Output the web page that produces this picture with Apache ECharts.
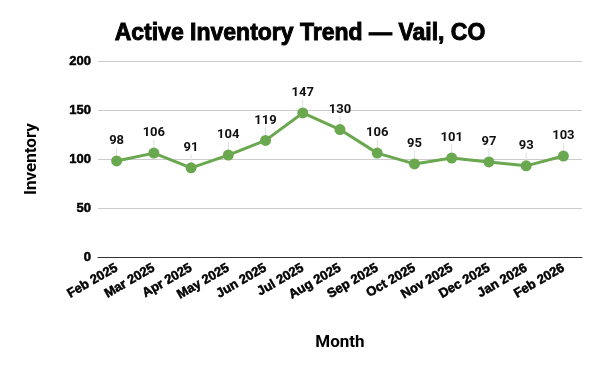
<!DOCTYPE html>
<html><head><meta charset="utf-8">
<script src="https://cdn.jsdelivr.net/npm/echarts@6/dist/echarts.min.js"></script>
<style>html,body{margin:0;padding:0;background:#fff}#c{width:600px;height:371px}</style>
</head><body><div id="c"></div>
<script>
const categories = ['Feb 2025','Mar 2025','Apr 2025','May 2025','Jun 2025','Jul 2025','Aug 2025','Sep 2025','Oct 2025','Nov 2025','Dec 2025','Jan 2026','Feb 2026'];
const inventory = [98,106,91,104,119,147,130,106,95,101,97,93,103];
const yTicks = {min:0, max:200, interval:50};
const chart = echarts.init(document.getElementById('c'));
const heavy = {fontFamily:'Liberation Sans, Arial', fontWeight:'bold', color:'#000', textBorderColor:'#000'};
chart.setOption({
  animation:false,
  backgroundColor:'#fff',
  title:{text:'Active Inventory Trend — Vail, CO', left:'center', top:17,
    textStyle:Object.assign({}, heavy, {fontSize:23, textBorderWidth:0.9})},
  grid:{left:98, right:18, top:61, bottom:114},
  xAxis:{type:'category', data:categories, boundaryGap:true,
    name:'Month', nameLocation:'middle', nameGap:77,
    nameTextStyle:{fontFamily:'Roboto', fontWeight:'bold', fontSize:17, color:'#000'},
    axisLine:{lineStyle:{color:'#333', width:1}}, axisTick:{show:false},
    axisLabel:Object.assign({rotate:30, interval:0, margin:10, fontSize:13, textBorderWidth:0.5}, heavy)},
  yAxis:{type:'value', min:yTicks.min, max:yTicks.max, interval:yTicks.interval,
    name:'Inventory', nameLocation:'middle', nameGap:58, nameRotate:90,
    nameTextStyle:{fontFamily:'Roboto', fontWeight:'bold', fontSize:17, color:'#000'},
    axisLine:{show:false}, axisTick:{show:false},
    splitLine:{lineStyle:{color:'#cccccc'}},
    axisLabel:Object.assign({margin:7, fontSize:13, textBorderWidth:0.5}, heavy)},
  series:[{type:'line', data:inventory, symbol:'circle', symbolSize:11,
    lineStyle:{color:'#6aa84f', width:3}, itemStyle:{color:'#6aa84f'},
    label:{show:true, position:'top', distance:5, fontFamily:'Roboto', fontWeight:'bold', fontSize:13, color:'#111'},
    labelLayout:{dy:-3},
    labelLine:{show:true, lineStyle:{color:'#e0e0e0', width:1}}
  }]
});
</script></body></html>
